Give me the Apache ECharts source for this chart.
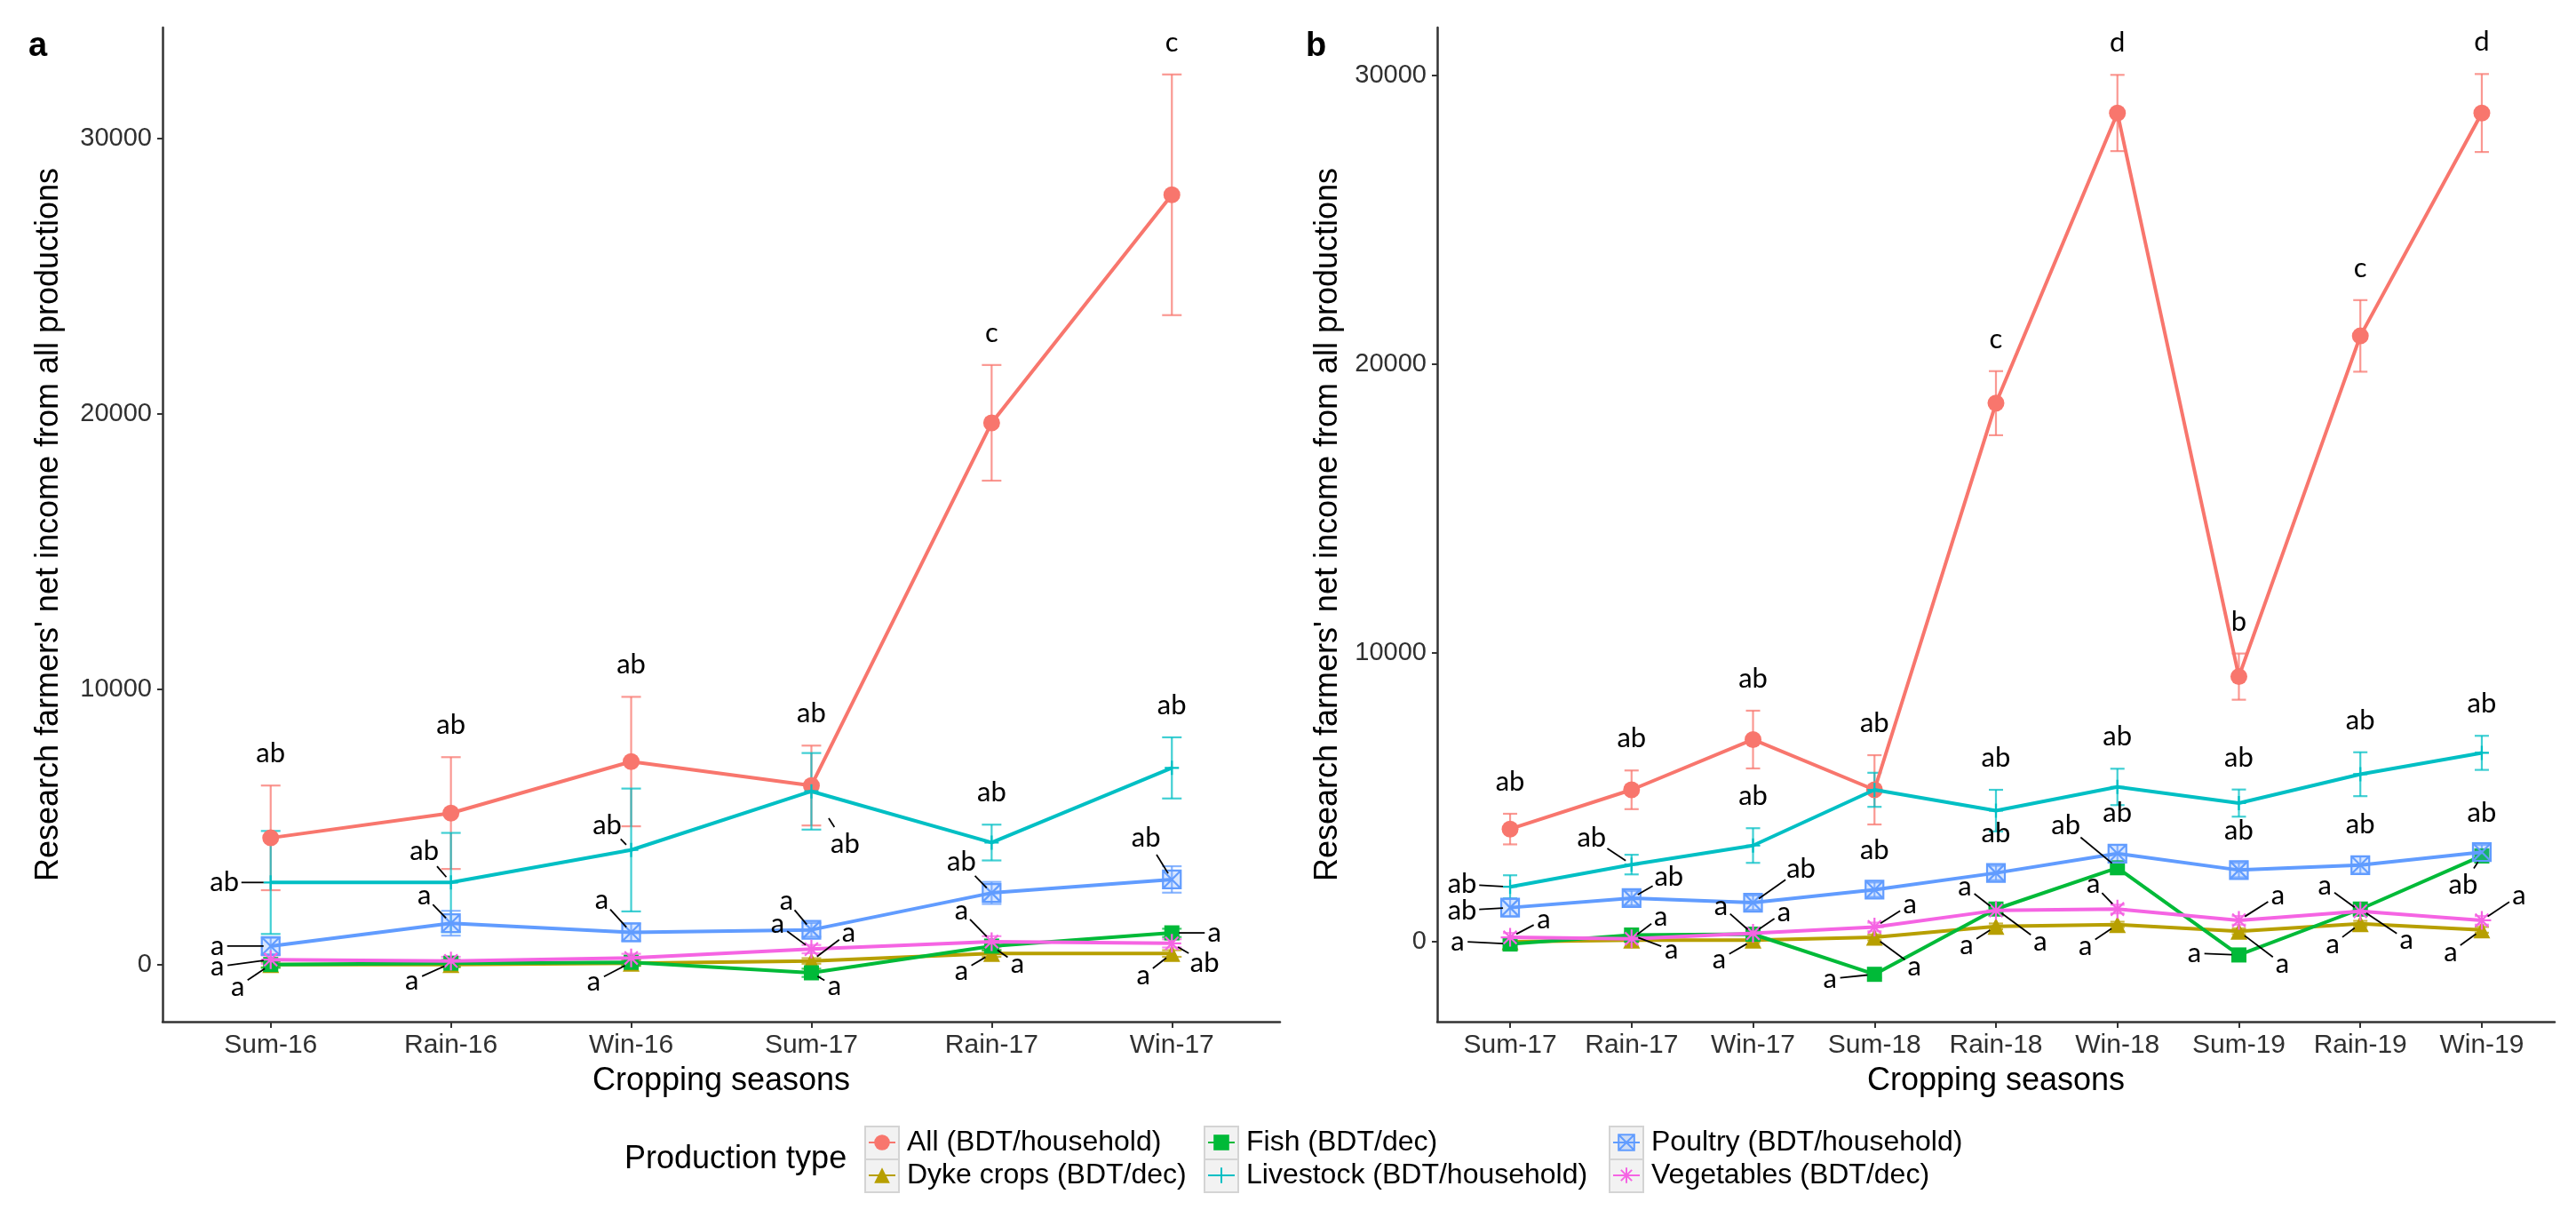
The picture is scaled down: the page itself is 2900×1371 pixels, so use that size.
<!DOCTYPE html>
<html><head><meta charset="utf-8">
<script src="https://cdn.jsdelivr.net/npm/echarts@6/dist/echarts.min.js"></script>
<style>html,body{margin:0;padding:0;background:#fff}#c{width:2900px;height:1371px}</style>
</head><body><div id="c"></div>
<script>
// ---------------- DATA ----------------
const seasonsA = ['Sum-16','Rain-16','Win-16','Sum-17','Rain-17','Win-17'];
const seasonsB = ['Sum-17','Rain-17','Win-17','Sum-18','Rain-18','Win-18','Sum-19','Rain-19','Win-19'];
const yTickValues = [0, 10000, 20000, 30000];
const typeNames = ['All (BDT/household)','Dyke crops (BDT/dec)','Fish (BDT/dec)','Livestock (BDT/household)','Poultry (BDT/household)','Vegetables (BDT/dec)'];

// Panel a: means
const allA       = [4600, 5500, 7370, 6500, 19670, 27950];
const dykeA      = [0, 0, 50, 130, 400, 400];
const fishA      = [0, 50, 80, -300, 670, 1150];
const livestockA = [2980, 2980, 4160, 6290, 4430, 7140];
const poultryA   = [670, 1500, 1170, 1260, 2600, 3090];
const vegA       = [180, 130, 240, 560, 830, 770];
// Panel a: error half-widths
const allErrA       = [1900, 2030, 2350, 1450, 2100, 4370];
const dykeErrA      = [100, 100, 100, 100, 120, 120];
const fishErrA      = [120, 120, 120, 150, 150, 150];
const livestockErrA = [1870, 1800, 2230, 1390, 650, 1110];
const poultryErrA   = [300, 450, 320, 250, 400, 480];
const vegErrA       = [150, 150, 150, 150, 200, 150];
// Panel a: letters
const allLetA       = ['ab','ab','ab','ab','c','c'];
const dykeLetA      = ['','','','a','a','a'];
const fishLetA      = ['a','a','a','a','a','a'];
const livestockLetA = ['ab','ab','ab','ab','ab','ab'];
const poultryLetA   = ['a','a','a','a','ab','ab'];
const vegLetA       = ['a','','','a','a','ab'];

// Panel b: means
const allB       = [3900, 5260, 7000, 5260, 18650, 28700, 9180, 20980, 28700];
const dykeB      = [0, 50, 50, 150, 530, 590, 360, 620, 410];
const fishB      = [-80, 230, 260, -1130, 1130, 2560, -460, 1130, 2970];
const livestockB = [1900, 2670, 3330, 5260, 4540, 5360, 4800, 5800, 6540];
const poultryB   = [1180, 1510, 1350, 1800, 2380, 3050, 2480, 2650, 3100];
const vegB       = [150, 100, 290, 510, 1080, 1130, 740, 1050, 740];
// Panel b: error half-widths
const allErrB       = [530, 670, 1000, 1200, 1110, 1320, 800, 1240, 1350];
const dykeErrB      = [80, 80, 80, 100, 100, 100, 100, 100, 100];
const fishErrB      = [100, 100, 100, 120, 120, 150, 120, 120, 150];
const livestockErrB = [400, 340, 600, 590, 720, 630, 470, 760, 590];
const poultryErrB   = [300, 250, 250, 250, 250, 300, 250, 300, 250];
const vegErrB       = [150, 120, 150, 150, 150, 150, 150, 150, 150];
// Panel b: letters
const allLetB       = ['ab','ab','ab','ab','c','d','b','c','d'];
const dykeLetB      = ['','','a','a','a','a','a','a','a'];
const fishLetB      = ['a','a','a','a','a','ab','a','a','ab'];
const livestockLetB = ['ab','ab','ab','','ab','ab','ab','ab','ab'];
const poultryLetB   = ['ab','ab','ab','ab','ab','ab','ab','ab','ab'];
const vegLetB       = ['a','a','a','a','a','a','a','a','a'];

// ---------------- LABEL PLACEMENT (pixel offsets, styling only) ----------------
const placeA = [
  ['T','T','T','T','T','T'],
  [null,null,null,[42,-32],[-34,20],[-32,25]],
  [[-37,25],[-44,20],[-42,22],[26,15],[29,20],[48,0]],
  [[-52,0],[-30,-35],[-27,-28],[38,59,36],'T','T'],
  [[-60,0],[-30,-31],[-33,-36],[-28,-33],[-34,-35],[-29,-47]],
  [[-60,8],null,null,[-38,-28],[-34,-35],[37,22]]
];
const placeB = [
  ['T','T','T','T','T','T','T','T','T'],
  [null,null,[-38,22],[45,33],[-33,21],[-36,24],[49,37],[-31,23],[-35,25]],
  [[-59,-3],[45,17],[-36,-32],[-50,5],[50,37],[-58,-48],[-50,-2],[52,35],[-21,33]],
  [[-54,-3],[-45,-30],'T',null,'T','T','T','T','T'],
  [[-54,3],[42,-24],[54,-38],'T','T','T','T','T','T'],
  [[38,-20],[33,-25],[35,-24],[40,-25],[-35,-27],[-27,-28],[44,-28],[-40,-29],[42,-28]]
];

// ---------------- STYLES ----------------
const typeStyles = [
  {color:'#F8766D', symbol:'circle', size:19, stroke:false},
  {color:'#B79F00', symbol:'triangle', size:19, stroke:false},
  {color:'#00BA38', symbol:'rect', size:17, stroke:false},
  {color:'#00BFC4', symbol:'path://M0,5L10,5M5,0L5,10', size:16, stroke:true},
  {color:'#619CFF', symbol:'path://M0,0L10,0L10,10L0,10ZM0,0L10,10M10,0L0,10', size:20, stroke:true, fill:'rgba(97,156,255,0.25)'},
  {color:'#F564E3', symbol:'path://M5,0L5,10M0,5L10,5M1.5,1.5L8.5,8.5M8.5,1.5L1.5,8.5', size:21, stroke:true}
];
const FONT = 'Liberation Sans, Arial, sans-serif';
const LETTER_FONT = 'Lato, Open Sans, sans-serif';
const AXIS_COLOR = '#333333';

const panels = [
  {cats: seasonsA, means:[allA,dykeA,fishA,livestockA,poultryA,vegA], errs:[allErrA,dykeErrA,fishErrA,livestockErrA,poultryErrA,vegErrA],
   lets:[allLetA,dykeLetA,fishLetA,livestockLetA,poultryLetA,vegLetA], place: placeA, yMin:-2074, yMax:34023, whisker:11,
   grid:{left:183, top:31, width:1258, height:1119}, nameGap:110},
  {cats: seasonsB, means:[allB,dykeB,fishB,livestockB,poultryB,vegB], errs:[allErrB,dykeErrB,fishErrB,livestockErrB,poultryErrB,vegErrB],
   lets:[allLetB,dykeLetB,fishLetB,livestockLetB,poultryLetB,vegLetB], place: placeB, yMin:-2770, yMax:31660, whisker:8,
   grid:{left:1618, top:31, width:1258, height:1119}, nameGap:105}
];

const grids = [], xAxes = [], yAxes = [], series = [];
panels.forEach((P, g) => {
  grids.push(P.grid);
  const idx = P.cats.map((c, i) => i);
  xAxes.push({
    type:'value', gridIndex:g, min:-0.6, max:P.cats.length - 0.4,
    axisLine:{show:true, onZero:false, lineStyle:{color:AXIS_COLOR, width:2.5}},
    axisTick:{show:true, customValues:idx, length:7, lineStyle:{color:AXIS_COLOR, width:2}},
    axisLabel:{customValues:idx, formatter:(v) => P.cats[Math.round(v)], fontSize:30, color:'#303030', fontFamily:FONT, margin:12},
    splitLine:{show:false},
    name:'Cropping seasons', nameLocation:'middle', nameGap:49,
    nameTextStyle:{fontSize:36, color:'#000', fontFamily:FONT}
  });
  yAxes.push({
    type:'value', gridIndex:g, min:P.yMin, max:P.yMax,
    axisLine:{show:true, onZero:false, lineStyle:{color:AXIS_COLOR, width:2.5}},
    axisTick:{show:true, customValues:yTickValues, length:6, lineStyle:{color:AXIS_COLOR, width:2}},
    axisLabel:{customValues:yTickValues, formatter:(v) => String(v), fontSize:29, color:'#303030', fontFamily:FONT, margin:12},
    splitLine:{show:false},
    name:"Research farmers' net income from all productions", nameLocation:'middle', nameGap:P.nameGap,
    nameTextStyle:{fontSize:36, color:'#000', fontFamily:FONT}
  });

  // error bars
  P.means.forEach((vals, k) => {
    const st = typeStyles[k];
    const errs = P.errs[k];
    series.push({
      type:'custom', name:'err-' + g + '-' + k, xAxisIndex:g, yAxisIndex:g, silent:true, z:2,
      data: vals.map((v, i) => [i, v, errs[i]]),
      encode:{x:0, y:1},
      renderItem:(params, api) => {
        const x = api.value(0), y = api.value(1), e = api.value(2);
        const t = api.coord([x, y + e]), b = api.coord([x, y - e]);
        const w = P.whisker;
        const sty = {stroke:st.color, lineWidth:2.2, opacity:0.75};
        return {type:'group', children:[
          {type:'line', shape:{x1:t[0], y1:t[1], x2:b[0], y2:b[1]}, style:sty},
          {type:'line', shape:{x1:t[0]-w, y1:t[1], x2:t[0]+w, y2:t[1]}, style:sty},
          {type:'line', shape:{x1:b[0]-w, y1:b[1], x2:b[0]+w, y2:b[1]}, style:sty}
        ]};
      }
    });
  });
  // lines + points
  P.means.forEach((vals, k) => {
    const st = typeStyles[k];
    series.push({
      type:'line', name:typeNames[k], xAxisIndex:g, yAxisIndex:g, z:3 + k * 0.01,
      data: vals.map((v, i) => [i, v]),
      symbol: st.symbol, symbolSize: st.size, showAllSymbol:true,
      lineStyle:{color:st.color, width:4},
      itemStyle: st.stroke ? {color: st.fill || 'rgba(0,0,0,0)', borderColor:st.color, borderWidth:2.2}
                           : {color:st.color, borderWidth:0},
      emphasis:{disabled:true}
    });
  });
  // letter labels
  const labels = [];
  P.means.forEach((vals, k) => {
    vals.forEach((v, i) => {
      const txt = P.lets[k][i];
      const pl = P.place[k][i];
      if (!txt || !pl) return;
      labels.push({x:i, y:v, err:P.errs[k][i], text:txt, pl:pl});
    });
  });
  series.push({
    type:'custom', name:'letters-' + g, xAxisIndex:g, yAxisIndex:g, silent:true, z:10,
    data: labels.map(l => [l.x, l.y]),
    encode:{x:0, y:1},
    renderItem:(params, api) => {
      const L = labels[params.dataIndex];
      const p = api.coord([L.x, L.y]);
      const tstyle = (x, y) => ({text:L.text, x:x, y:y, align:'center', verticalAlign:'middle', fontSize:31, fontFamily:LETTER_FONT, fill:'#000'});
      if (L.pl === 'T') {
        const t = api.coord([L.x, L.y + L.err]);
        return {type:'text', style:tstyle(p[0], t[1] - 36)};
      }
      const dx = L.pl[0], dy = L.pl[1], s = L.pl[2] || 8;
      const tx = p[0] + dx, ty = p[1] + dy;
      const len = Math.hypot(dx, dy);
      const ux = dx / len, uy = dy / len;
      const r = (L.text.length > 1 ? 19 : 11) + Math.abs(uy) * 4;
      const children = [{type:'text', style:tstyle(tx, ty)}];
      if (len - r > s + 2) {
        children.push({type:'line', shape:{x1:p[0] + ux * s, y1:p[1] + uy * s, x2:tx - ux * r, y2:ty - uy * r},
                       style:{stroke:'#000', lineWidth:1.8}});
      }
      return {type:'group', children:children};
    }
  });
});

// ---------------- LEGEND ----------------
const legendCols = [973, 1355, 1811];
const legendRows = [1267, 1304];
const legends = [];
const graphics = [];
typeNames.forEach((nm, k) => {
  const col = Math.floor(k / 2), row = k % 2;
  graphics.push({type:'rect', left:legendCols[col], top:legendRows[row], z:0,
    shape:{width:38, height:37}, style:{fill:'#F2F2F2', stroke:'#D4D4D4', lineWidth:2}});
  legends.push({
    data:[nm], orient:'horizontal', left:legendCols[col] + 4, top:legendRows[row] + 2, padding:0,
    itemWidth:30, itemHeight:22, selectedMode:false, z:5,
    textStyle:{fontSize:32, color:'#000', fontFamily:FONT, lineHeight:34, padding:[0,0,0,8]}
  });
});
graphics.push({type:'text', left:703, top:1287, style:{text:'Production type', fontSize:36, fontFamily:FONT, fill:'#000'}});
graphics.push({type:'text', left:32, top:34, style:{text:'a', fontSize:38, fontWeight:'bold', fontFamily:FONT, fill:'#000'}});
graphics.push({type:'text', left:1470, top:34, style:{text:'b', fontSize:38, fontWeight:'bold', fontFamily:FONT, fill:'#000'}});

const chart = echarts.init(document.getElementById('c'), null, {renderer:'canvas'});
chart.setOption({
  animation:false,
  backgroundColor:'#ffffff',
  grid: grids,
  xAxis: xAxes,
  yAxis: yAxes,
  legend: legends,
  graphic: graphics,
  series: series
});
</script>
</body></html>
